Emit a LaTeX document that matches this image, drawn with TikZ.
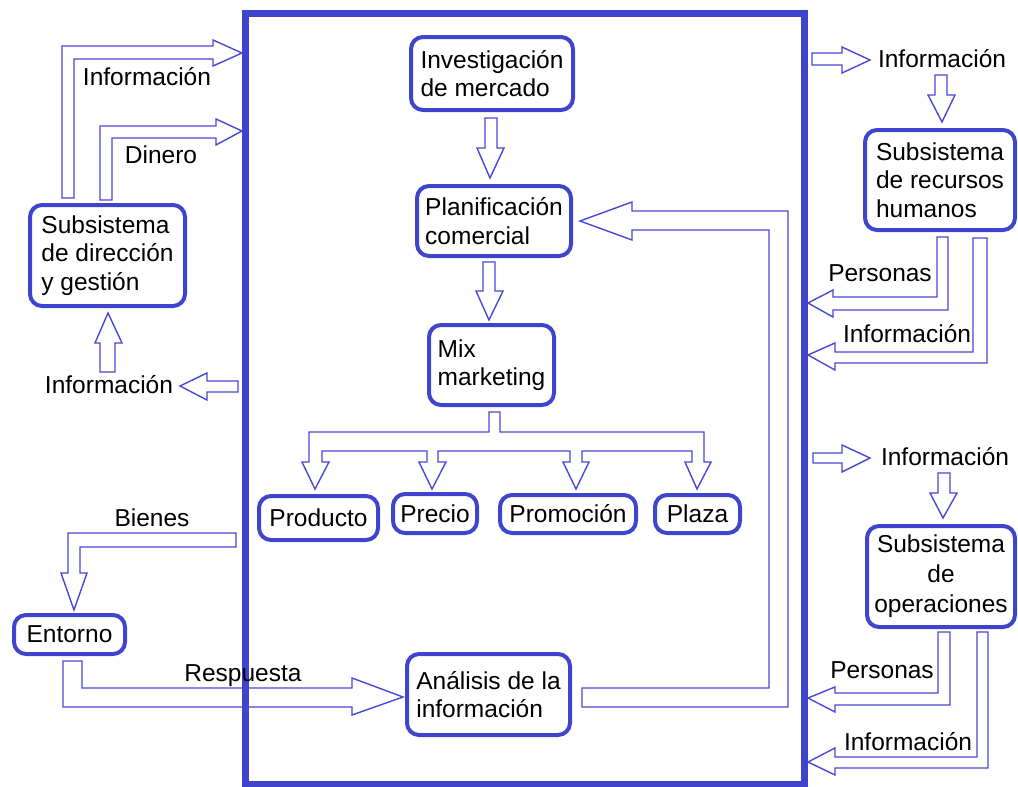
\documentclass[tikz,border=0pt]{standalone}
\usepackage{fontspec}
\setmainfont{Liberation Sans}
\definecolor{boxblue}{RGB}{63,68,204}
\definecolor{arrblue}{RGB}{72,72,214}
\begin{document}
\begin{tikzpicture}[x=1pt,y=-1pt,
  font=\fontsize{24.5}{28.5}\selectfont,
  box/.style={draw=boxblue, line width=4pt, rounded corners=12pt, inner sep=0pt, align=left, text=black},
  cbox/.style={box, align=center},
  lbl/.style={inner sep=0pt, text height=17.5pt, text depth=0pt, text=black},
  blk/.style={draw=arrblue, line width=1.4pt, line join=miter}]
\useasboundingbox (0,0) rectangle (1018,787);
% frame
\draw[boxblue, line width=7pt] (245.5,13.5) rectangle (804.5,784);
% boxes
\node[box, minimum width=162pt, minimum height=73pt] (inv) at (492,73.5) {Investigación\\de mercado};
\node[box, minimum width=154pt, minimum height=70pt] (plan) at (494,221) {Planificación\\comercial};
\node[box, minimum width=125pt, minimum height=80pt] (mix) at (491.5,365) {Mix\\marketing};
\node[cbox, minimum width=119pt, minimum height=44pt] (prod) at (318.5,518) {Producto};
\node[cbox, minimum width=84pt, minimum height=39pt] (prec) at (435,513.5) {Precio};
\node[cbox, minimum width=136pt, minimum height=38pt] (prom) at (568,514) {Promoción};
\node[cbox, minimum width=85pt, minimum height=38pt] (plaza) at (697.5,514) {Plaza};
\node[box, minimum width=163pt, minimum height=81pt] (anal) at (488.5,694.5) {Análisis de la\\información};
\node[box, minimum width=155pt, minimum height=101pt] (dir) at (107.5,255.5) {Subsistema\\de dirección\\y gestión};
\node[box, minimum width=111pt, minimum height=39pt] (ent) at (69.5,634.5) {Entorno};
\node[box, minimum width=150pt, minimum height=100pt] (rh) at (940,180) {Subsistema\\de recursos\\humanos};
\node[cbox, minimum width=148pt, minimum height=101pt, font=\fontsize{24.5}{30}\selectfont] (ops) at (941,576.5) {Subsistema\\de\\operaciones};
% labels
\node[lbl] (l1) at (147,77) {Información};
\node[lbl] (l2) at (161,155) {Dinero};
\node[lbl] (l3) at (109,385) {Información};
\node[lbl] (l4) at (152,518) {Bienes};
\node[lbl] (l5) at (243,673) {Respuesta};
\node[lbl] (l6) at (942,59) {Información};
\node[lbl] (l7) at (880,273) {Personas};
\node[lbl] (l8) at (907,334) {Información};
\node[lbl] (l9) at (945,457) {Información};
\node[lbl] (l10) at (882,670) {Personas};
\node[lbl] (l11) at (908,742) {Información};
% block arrows
\draw[blk] (62,198) -- (62,46) -- (213,46) -- (213,40) -- (242,53) -- (213,66) -- (213,59) -- (74,59) -- (74,198) -- cycle;
\draw[blk] (100,200) -- (100,126) -- (216,126) -- (216,119) -- (242,131) -- (216,145) -- (216,138) -- (112,138) -- (112,200) -- cycle;
\draw[blk] (100,372) -- (100,343) -- (95,343) -- (108,313) -- (122,343) -- (115,343) -- (115,372) -- cycle;
\draw[blk] (238,381) -- (207,381) -- (207,373) -- (180,386) -- (207,400) -- (207,392) -- (238,392) -- cycle;
\draw[blk] (236,533) -- (68,533) -- (68,573) -- (61,573) -- (74,610) -- (87,573) -- (80,573) -- (80,547) -- (236,547) -- cycle;
\draw[blk] (63,661) -- (63,707) -- (352,707) -- (352,715) -- (403,697) -- (352,678) -- (352,688) -- (82,688) -- (82,661) -- cycle;
\draw[blk] (485,118) -- (485,148) -- (477,148) -- (490,178) -- (504,148) -- (497,148) -- (497,118) -- cycle;
\draw[blk] (483,262) -- (483,291) -- (476,291) -- (489,320) -- (503,291) -- (495,291) -- (495,262) -- cycle;
\draw[blk] (489,412) -- (489,432) -- (309,432) -- (309,462) -- (302,462) -- (315,489) -- (329,462) -- (322,462) -- (322,451)
  -- (427,451) -- (427,462) -- (419,462) -- (432,489) -- (446,462) -- (438,462) -- (438,451)
  -- (570,451) -- (570,462) -- (563,462) -- (576,489) -- (589,462) -- (582,462) -- (582,451)
  -- (692,451) -- (692,462) -- (685,462) -- (697,489) -- (711,462) -- (704,462) -- (704,432)
  -- (500,432) -- (500,412) -- cycle;
\draw[blk] (582,707) -- (788,707) -- (788,211) -- (632,211) -- (632,202) -- (580,221) -- (632,240) -- (632,230) -- (769,230) -- (769,688) -- (582,688) -- cycle;
\draw[blk] (812,53) -- (842,53) -- (842,47) -- (870,60) -- (842,73) -- (842,65) -- (812,65) -- cycle;
\draw[blk] (935,75) -- (935,95) -- (928,95) -- (942,122) -- (955,95) -- (947,95) -- (947,75) -- cycle;
\draw[blk] (937,237) -- (937,297) -- (833,297) -- (833,290) -- (808,303) -- (833,317) -- (833,310) -- (948,310) -- (948,237) -- cycle;
\draw[blk] (973,238) -- (973,352) -- (835,352) -- (835,343) -- (808,355) -- (835,370) -- (835,363) -- (987,363) -- (987,238) -- cycle;
\draw[blk] (813,453) -- (842,453) -- (842,445) -- (870,458) -- (842,472) -- (842,463) -- (813,463) -- cycle;
\draw[blk] (938,473) -- (938,493) -- (930,493) -- (943,518) -- (957,493) -- (950,493) -- (950,473) -- cycle;
\draw[blk] (938,632) -- (938,693) -- (835,693) -- (835,687) -- (808,698) -- (835,712) -- (835,705) -- (950,705) -- (950,632) -- cycle;
\draw[blk] (977,632) -- (977,757) -- (835,757) -- (835,748) -- (808,762) -- (835,775) -- (835,768) -- (988,768) -- (988,632) -- cycle;
\end{tikzpicture}
\end{document}
